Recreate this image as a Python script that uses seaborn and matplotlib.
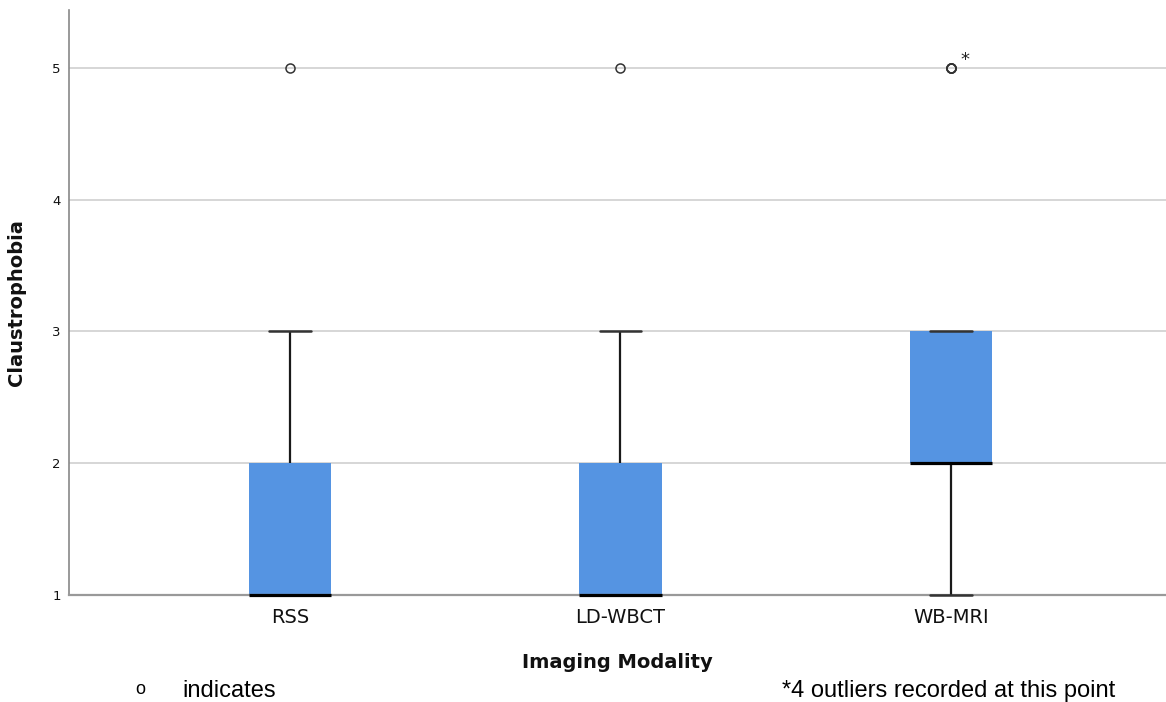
import numpy as np
import pandas as pd
import matplotlib
matplotlib.use("Agg")
import matplotlib.pyplot as plt
import seaborn as sns

# Claustrophobia score levels and the number of answers at each level
scores = [1, 2, 3, 4, 5]
modalities = ["RSS", "LD-WBCT", "WB-MRI"]
counts_rss = [12, 6, 3, 0, 1]
counts_ldwbct = [12, 6, 3, 0, 1]
counts_wbmri = [3, 10, 6, 0, 4]

y_ticks = [1, 2, 3, 4, 5]
footer_left = "indicates"
footer_right = "*4 outliers recorded at this point"


def main():
    rows = []
    for name, counts in zip(modalities, [counts_rss, counts_ldwbct, counts_wbmri]):
        for v in np.repeat(scores, counts):
            rows.append({"Imaging Modality": name, "Claustrophobia": v})
    df = pd.DataFrame(rows)

    sns.set_style("white")
    plt.rcParams["font.family"] = ["DejaVu Sans"]

    fig = plt.figure(figsize=(11.66, 7.02), dpi=100)
    ax = fig.add_axes([0.0592, 0.1524, 0.9408, 0.8334])

    box_color = "#5594E2"
    sns.boxplot(data=df, x="Imaging Modality", y="Claustrophobia", order=modalities,
                color=box_color, width=0.25, whis=1.5, saturation=1, ax=ax,
                boxprops=dict(linewidth=0, edgecolor=box_color),
                whiskerprops=dict(color="#1a1a1a", linewidth=1.6),
                capprops=dict(color="#333333", linewidth=1.8),
                medianprops=dict(color="black", linewidth=2.3),
                flierprops=dict(marker="o", markersize=6.5, markerfacecolor="none",
                                markeredgecolor="#333333", markeredgewidth=1.1))

    # keep whiskers, caps and medians on top of the bottom axis line
    for line in ax.lines:
        line.set_clip_on(False)
        line.set_zorder(4)

    ax.set_xlim(-0.668, 2.65)
    ax.set_ylim(1, 5.44)
    ax.set_yticks(y_ticks)
    ax.yaxis.grid(True, color="#cfcfcf", linewidth=1.2)
    ax.set_axisbelow(True)

    ax.tick_params(axis="y", length=0, pad=6, labelsize=9.5, labelcolor="#111111")
    ax.tick_params(axis="x", length=0, pad=9, labelsize=14, labelcolor="#111111")

    ax.set_xlabel("Imaging Modality", fontsize=14, fontweight="bold", labelpad=19,
                  color="#111111")
    ax.set_ylabel("Claustrophobia", fontsize=14, fontweight="bold", labelpad=19,
                  color="#111111")

    sns.despine(ax=ax, top=True, right=True)
    ax.spines["left"].set_color("#888888")
    ax.spines["left"].set_linewidth(1.2)
    ax.spines["bottom"].set_color("#999999")
    ax.spines["bottom"].set_linewidth(1.6)

    # asterisk next to the stacked WB-MRI outliers
    ax.annotate("*", xy=(2, 5), xytext=(10, -1), textcoords="offset points",
                fontsize=13, ha="center", va="bottom", color="#222222")

    fig.text(135 / 1166, 0.011, "o", fontsize=13, family="Liberation Sans",
             va="baseline", ha="left", color="black")
    fig.text(182 / 1166, 0.007, footer_left, fontsize=17, family="Liberation Sans",
             va="baseline", ha="left", color="black")
    fig.text(782 / 1166, 0.007, footer_right, fontsize=17, family="Liberation Sans",
             va="baseline", ha="left", color="black")

    fig.savefig("out.png", dpi=100)
    plt.close(fig)


if __name__ == "__main__":
    main()
